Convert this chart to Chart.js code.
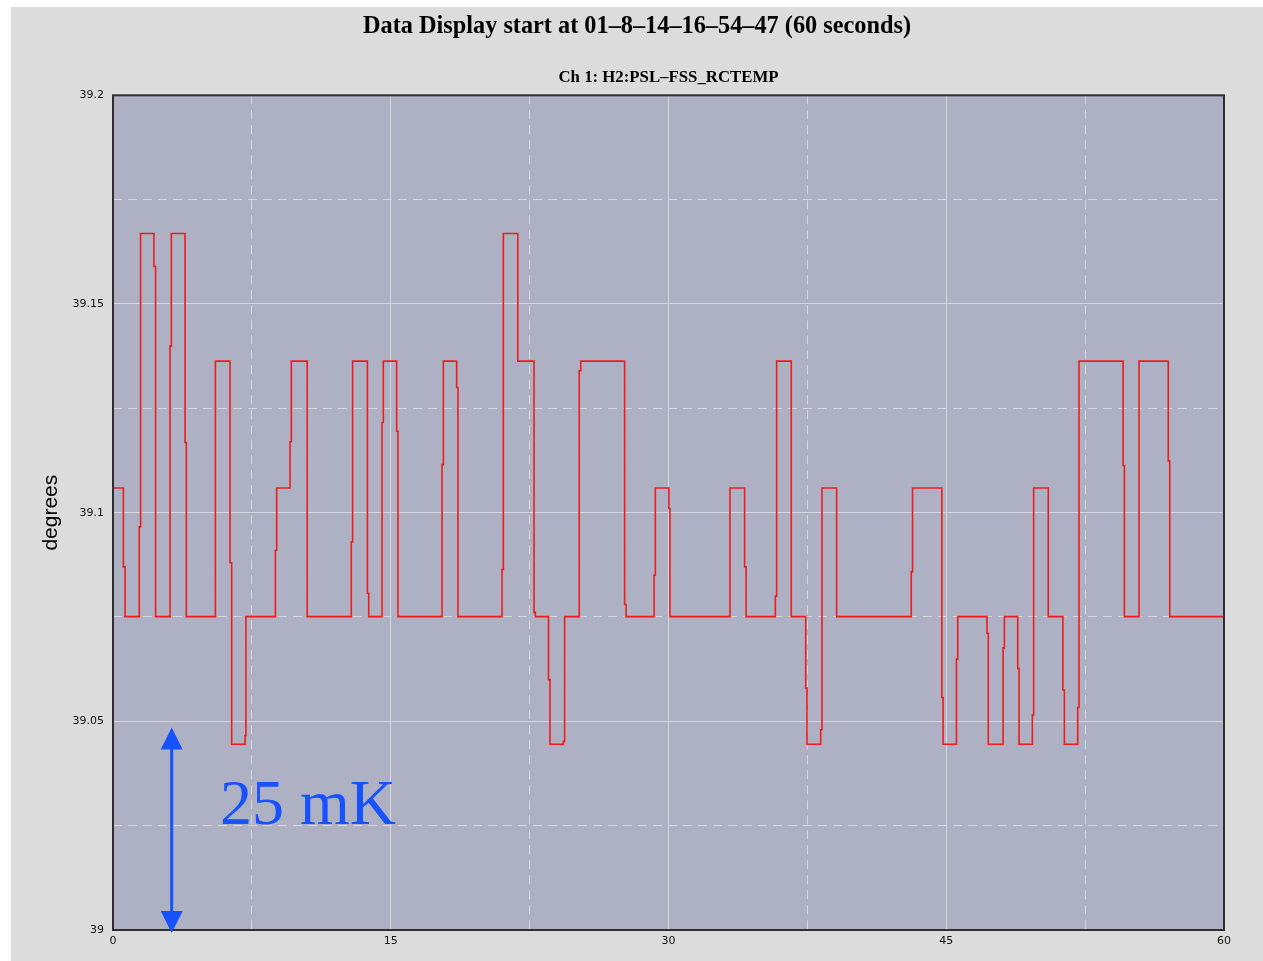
<!DOCTYPE html>
<html>
<head>
<meta charset="utf-8">
<title>Ch 1: H2:PSL-FSS_RCTEMP</title>
<script src="https://cdn.jsdelivr.net/npm/chart.js@4.4.1/dist/chart.umd.min.js"></script>
<style>
  html, body { margin: 0; padding: 0; background: #ffffff; }
  #panel { position: absolute; left: 11px; top: 7px; width: 1252px; height: 954px; background: #dcdcdc; }
</style>
</head>
<body>
<div id="panel"><canvas id="tempChart"></canvas></div>
<script>
// time (s) where a new reading starts, and that reading (degrees)
const seconds = [
  0, 0.56, 0.65, 1.42, 1.49, 2.21, 2.30, 3.08, 3.15, 3.89, 3.96, 5.53,
  6.32, 6.41, 7.13, 7.18, 8.77, 8.84, 9.56, 9.63, 10.49, 12.87, 12.94, 13.74,
  13.81, 14.53, 14.60, 15.32, 15.39, 17.77, 17.84, 18.56, 18.63, 21.01, 21.08, 21.86,
  22.74, 22.81, 23.52, 23.60, 24.32, 24.39, 25.18, 25.26, 27.63, 27.71, 29.22, 29.29,
  30.02, 30.08, 33.32, 34.11, 34.19, 35.77, 35.84, 36.63, 37.41, 37.48, 38.22, 38.29,
  39.08, 43.11, 43.18, 44.76, 44.83, 45.55, 45.62, 47.20, 47.27, 48.07, 48.14, 48.86,
  48.93, 49.65, 49.72, 50.51, 51.30, 51.38, 52.10, 52.17, 54.55, 54.62, 55.41, 56.99,
  57.07, 60
];
const degrees = [
  39.1059, 39.0870, 39.0751, 39.0966, 39.1669, 39.1590, 39.0751, 39.1399, 39.1669, 39.1168, 39.0751, 39.1363,
  39.0880, 39.0445, 39.0466, 39.0751, 39.0910, 39.1059, 39.1170, 39.1363, 39.0751, 39.0930, 39.1363, 39.0807,
  39.0751, 39.1216, 39.1363, 39.1195, 39.0751, 39.1115, 39.1363, 39.1300, 39.0751, 39.0864, 39.1669, 39.1363,
  39.0761, 39.0751, 39.0600, 39.0445, 39.0452, 39.0751, 39.1340, 39.1363, 39.0780, 39.0751, 39.0850, 39.1059,
  39.1010, 39.0751, 39.1059, 39.0870, 39.0751, 39.0800, 39.1363, 39.0751, 39.0580, 39.0445, 39.0480, 39.1059,
  39.0751, 39.0858, 39.1059, 39.0557, 39.0445, 39.0649, 39.0751, 39.0711, 39.0445, 39.0676, 39.0751, 39.0627,
  39.0445, 39.0515, 39.1059, 39.0751, 39.0575, 39.0445, 39.0533, 39.1363, 39.1113, 39.0751, 39.1363, 39.1124,
  39.0751, 39.0751
];

// axis ticks (every second one is a dashed minor line)
const xTicks = [0, 7.5, 15, 22.5, 30, 37.5, 45, 52.5, 60];
const xLabels = ["0", "", "15", "", "30", "", "45", "", "60"];
const yTicks = [39, 39.025, 39.05, 39.075, 39.1, 39.125, 39.15, 39.175, 39.2];
const yLabels = ["39", "", "39.05", "", "39.1", "", "39.15", "", "39.2"];

// the "25 mK" scale marker
const markerAt = 3.17;
const markerSpan = [39.0, 39.0485];
const markerText = "25 mK";
const markerTextAt = [5.78, 39.0254];

const tickFont = { family: "'DejaVu Sans'", size: 11 };
const gridColor = "#d5d6de";

// plot background and the dark frame round it
const plotFrame = {
  id: "plotFrame",
  beforeDraw(chart) {
    const { ctx, chartArea: a } = chart;
    ctx.save();
    ctx.fillStyle = "#aeb1c3";
    ctx.fillRect(a.left, a.top, a.right - a.left, a.bottom - a.top);
    ctx.restore();
  },
  afterDatasetsDraw(chart) {
    const { ctx, chartArea: a } = chart;
    ctx.save();
    ctx.strokeStyle = "#2f2f2f";
    ctx.lineWidth = 2;
    ctx.strokeRect(a.left, a.top, a.right - a.left, a.bottom - a.top);
    ctx.restore();
  }
};

// blue double arrow with its label
const scaleMarker = {
  id: "scaleMarker",
  afterDraw(chart) {
    const { ctx, scales: { x, y } } = chart;
    const px = x.getPixelForValue(markerAt);
    const top = y.getPixelForValue(markerSpan[1]);
    const bottom = y.getPixelForValue(markerSpan[0]) + 3;
    const head = 22, half = 11;
    ctx.save();
    ctx.strokeStyle = ctx.fillStyle = "#1752ff";
    ctx.lineWidth = 3;
    ctx.beginPath();
    ctx.moveTo(px, top + head - 2);
    ctx.lineTo(px, bottom - head + 2);
    ctx.stroke();
    ctx.beginPath();
    ctx.moveTo(px, top);
    ctx.lineTo(px + half, top + head);
    ctx.lineTo(px - half, top + head);
    ctx.closePath();
    ctx.fill();
    ctx.beginPath();
    ctx.moveTo(px, bottom);
    ctx.lineTo(px + half, bottom - head);
    ctx.lineTo(px - half, bottom - head);
    ctx.closePath();
    ctx.fill();
    ctx.font = "64px 'Liberation Serif'";
    ctx.textBaseline = "alphabetic";
    ctx.fillText(markerText, x.getPixelForValue(markerTextAt[0]), y.getPixelForValue(markerTextAt[1]));
    ctx.restore();
  }
};

new Chart(document.getElementById("tempChart"), {
  type: "line",
  data: {
    datasets: [{
      label: "Ch 1: H2:PSL–FSS_RCTEMP",
      data: seconds.map((t, i) => ({ x: t, y: degrees[i] })),
      stepped: true,
      borderColor: "#f01c1c",
      borderWidth: 1.6,
      pointRadius: 0,
      fill: false
    }]
  },
  options: {
    responsive: true,
    maintainAspectRatio: false,
    animation: false,
    plugins: {
      legend: { display: false },
      tooltip: { enabled: false },
      title: {
        display: true,
        text: "Data Display start at 01–8–14–16–54–47 (60 seconds)",
        color: "#000",
        font: { family: "'Liberation Serif'", size: 24.3, weight: "bold" },
        padding: { top: 5.5, bottom: 14 }
      },
      subtitle: {
        display: true,
        fullSize: false,
        text: "Ch 1: H2:PSL–FSS_RCTEMP",
        color: "#000",
        font: { family: "'Liberation Serif'", size: 16.8, weight: "bold" },
        padding: { top: 11.5, bottom: 8 }
      }
    },
    scales: {
      x: {
        type: "linear",
        min: 0,
        max: 60,
        afterBuildTicks: s => { s.ticks = xTicks.map(v => ({ value: v })); },
        afterFit: s => { s.height = 31; },
        ticks: {
          callback: (v, i) => xLabels[i],
          font: tickFont,
          color: "#111",
          padding: 5,
          maxRotation: 0,
          autoSkip: false
        },
        grid: { color: gridColor, lineWidth: 1, drawTicks: false },
        border: { display: false, dash: c => (c.index % 2 ? [9, 6] : []) }
      },
      y: {
        min: 39,
        max: 39.2,
        afterBuildTicks: s => { s.ticks = yTicks.map(v => ({ value: v })); },
        afterFit: s => { s.width = 102; },
        ticks: {
          callback: (v, i) => yLabels[i],
          font: tickFont,
          color: "#111",
          padding: 9,
          autoSkip: false
        },
        grid: { color: gridColor, lineWidth: 1, drawTicks: false },
        border: { display: false, dash: c => (c.index % 2 ? [9, 6] : []) },
        title: {
          display: true,
          text: "degrees",
          color: "#000",
          font: { family: "'Liberation Sans'", size: 21 },
          padding: { top: 27.4, bottom: 0 }
        }
      },
      // empty right-hand strip, keeps the plot off the panel edge
      yRight: {
        position: "right",
        min: 39,
        max: 39.2,
        afterFit: s => { s.width = 39; },
        ticks: { display: false },
        grid: { display: false, drawTicks: false },
        border: { display: false }
      }
    }
  },
  plugins: [plotFrame, scaleMarker]
});
</script>
</body>
</html>
